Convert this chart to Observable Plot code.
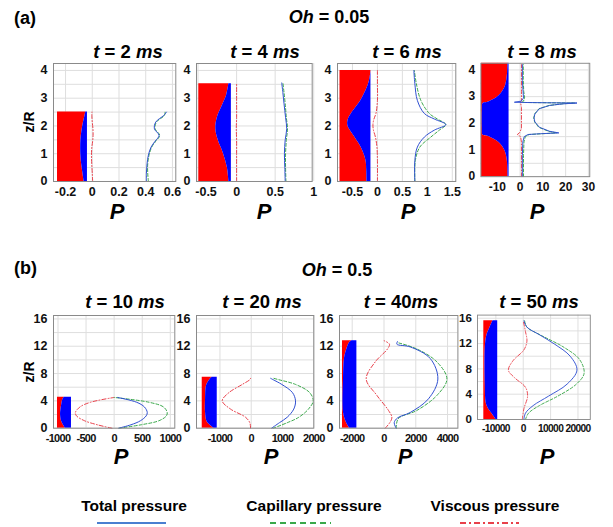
<!DOCTYPE html>
<html><head><meta charset="utf-8">
<script src="https://cdn.jsdelivr.net/npm/d3@7"></script>
<script src="https://cdn.jsdelivr.net/npm/@observablehq/plot@0.6"></script>
<style>
body{margin:0;background:#fff;font-family:"Liberation Sans",Arial,sans-serif;}
#root{position:relative;width:613px;height:527px;overflow:hidden;background:#fff;}
.plot{position:absolute;}
.plot svg{overflow:visible;}
</style></head><body><div id="root"></div>
<script>
// ---------- panel titles / labels ----------
const rowTitles = ["(a)", "(b)"];
const ohValues = ["0.05", "0.5"];
const times = ["2", "4", "6", "8", "10", "20", "40", "50"];
const legendLabels = ["Total pressure", "Capillary pressure", "Viscous pressure"];

// ---------- tick labels ----------
const topYTicks = [0, 1, 2, 3, 4];
const botYTicks = [0, 4, 8, 12, 16];
const p1XTicks = [-0.2, 0, 0.2, 0.4, 0.6];
const p2XTicks = [-0.5, 0, 0.5, 1];
const p3XTicks = [-0.5, 0, 0.5, 1, 1.5];
const p4XTicks = [-10, 0, 10, 20, 30];
const p5XTicks = [-1000, -500, 0, 500, 1000];
const p6XTicks = [-1000, 0, 1000, 2000];
const p7XTicks = [-2000, 0, 2000, 4000];
const p8XTicks = [-10000, 0, 10000, 20000];

// ---------- t = 2 ms ----------
const p1Domain = [-0.29, 0.625];
const p1Slab = [-0.26, -0.036];
const p1FillZ = [0, 0.3, 0.6, 0.9, 1.2, 1.5, 1.8, 2.1, 2.35, 2.5];
const p1Boundary = [-0.061, -0.07, -0.079, -0.085, -0.087, -0.085, -0.078, -0.067, -0.055, -0.048];
const p1Z = [0, 0.3, 0.64, 0.95, 1.24, 1.45, 1.66, 1.9, 2.14, 2.38, 2.5];
const p1Total = [0.405, 0.405, 0.41, 0.42, 0.44, 0.47, 0.5, 0.465, 0.475, 0.535, 0.555];
const p1Capillary = [0.42, 0.415, 0.415, 0.425, 0.445, 0.475, 0.505, 0.47, 0.48, 0.54, 0.545];
const p1Viscous = [0.003, 0.0, -0.004, -0.006, -0.003, 0.003, 0.006, 0.005, 0.0, -0.003, -0.002];

// ---------- t = 4 ms ----------
const p2Domain = [-0.52, 0.98];
const p2Slab = [-0.49, -0.068];
const p2FillZ = [0, 0.5, 1, 1.5, 1.9, 2.3, 2.7, 3.1, 3.52];
const p2Boundary = [-0.1, -0.12, -0.17, -0.24, -0.27, -0.25, -0.19, -0.13, -0.1];
const p2Z = [0, 0.5, 1, 1.5, 1.9, 2.3, 2.8, 3.2, 3.55];
const p2Total = [0.63, 0.625, 0.62, 0.63, 0.65, 0.635, 0.615, 0.6, 0.585];
const p2Capillary = [0.64, 0.635, 0.635, 0.645, 0.66, 0.645, 0.63, 0.615, 0.6];
const p2Viscous = [0, 0, 0, 0, -0.004, 0, 0, 0, 0];

// ---------- t = 6 ms ----------
const p3Domain = [-0.8, 1.57];
const p3Slab = [-0.75, -0.13];
const p3FillZ = [0, 0.4, 0.76, 1.24, 1.72, 1.99, 2.2, 2.5, 2.92, 3.4, 3.7, 4.0];
const p3Boundary = [-0.21, -0.215, -0.23, -0.33, -0.5, -0.59, -0.59, -0.5, -0.33, -0.2, -0.15, -0.13];
const p3Z = [0, 0.76, 1.24, 1.6, 1.85, 2.05, 2.25, 2.45, 2.92, 3.52, 4.0];
const p3Total = [0.75, 0.75, 0.8, 0.94, 1.14, 1.37, 1.14, 0.94, 0.8, 0.75, 0.73];
const p3Capillary = [0.75, 0.76, 0.85, 1.07, 1.24, 1.37, 1.2, 1.04, 0.87, 0.78, 0.74];
const p3Viscous = [0, 0, -0.01, -0.04, -0.08, -0.09, -0.07, -0.03, 0, 0, 0];

// ---------- t = 8 ms ----------
const p4Domain = [-17.2, 30.6];
const p4Slab = [-17.0, -4.85];
const p4FillZ = [0, 0.5, 0.8, 1.0, 1.2, 1.35, 1.45, 1.52, 1.56, 1.8, 2.2, 2.5, 2.74, 2.78, 2.86, 2.96, 3.12, 3.32, 3.55, 3.9, 4.25];
const p4Boundary = [-5.3, -5.5, -6.0, -6.8, -8.3, -10.3, -12.5, -14.5, -16.3, -16.6, -16.7, -16.6, -16.3, -14.5, -12.5, -10.3, -8.3, -6.8, -6.0, -5.5, -5.3];
const p4Z = [0, 0.8, 1.3, 1.5, 1.58, 1.61, 1.64, 1.7, 1.85, 2.05, 2.2, 2.35, 2.55, 2.67, 2.73, 2.76, 2.77, 2.78, 2.79, 2.83, 2.95, 3.2, 3.6, 4.2];
const p4Total = [1, 1, 1.2, 1.8, 3.5, 9, 17, 13, 8.5, 6.5, 6.1, 6.5, 8.5, 13, 19, 25, 12, 2, -2.5, 0.5, 1.5, 1.3, 1, 1];
const p4Capillary = [1.5, 1.5, 1.7, 2.3, 4, 10, 16, 12.5, 8.2, 6.4, 6.0, 6.4, 8.3, 12.8, 18.5, 24, 12, 2.5, 0.8, 1.5, 2, 1.6, 1.4, 1.4];
const p4ViscZ = [0, 1.3, 1.5, 1.58, 1.65, 1.8, 2.6, 2.78, 2.85, 3.2, 4.2];
const p4Viscous = [0.6, 0.6, 0.2, -1.2, -0.2, 0.6, 0.6, 0.2, 0.6, 0.6, 0.6];

// ---------- t = 10 ms ----------
const p5Domain = [-1080, 1080];
const p5Slab = [-1009, -760];
const p5FillZ = [0, 0.4, 1.1, 2.0, 2.6, 3.4, 4.05, 4.54];
const p5Boundary = [-870, -900, -940, -955, -950, -935, -920, -890];
const p5Z = [0, 0.5, 1.1, 1.8, 2.3, 3.1, 3.8, 4.5];
const p5Total = [80, 300, 470, 570, 590, 540, 400, 60];
const p5Capillary = [90, 480, 800, 930, 945, 880, 620, 0];
const p5Viscous = [-40, -300, -530, -670, -690, -610, -420, 0];

// ---------- t = 20 ms ----------
const p6Domain = [-1750, 2000];
const p6Slab = [-1567, -1087];
const p6FillZ = [0, 0.9, 2.3, 4.3, 6.2, 7.1, 7.46];
const p6Boundary = [-1196, -1407, -1461, -1461, -1430, -1323, -1247];
const p6Z = [0, 0.8, 1.6, 2.8, 4.0, 5.2, 6.4, 7.1, 7.3];
const p6Total = [650, 900, 1150, 1360, 1416, 1320, 980, 700, 620];
const p6Capillary = [700, 1150, 1520, 1830, 1980, 1870, 1420, 880, 720];
const p6Viscous = [-22, -45, -182, -662, -927, -716, -288, -45, -20];

// ---------- t = 40 ms ----------
const p7Domain = [-2800, 4650];
const p7Slab = [-2612, -1706];
const p7FillZ = [0, 0.9, 2.3, 7.2, 10.2, 11.6, 12.5, 12.8];
const p7Boundary = [-2171, -2379, -2549, -2549, -2486, -2335, -2171, -2020];
const p7TotalZ = [0, 0.8, 1.5, 2.3, 4.3, 7.2, 10.2, 11.9, 12.3, 12.7];
const p7Total = [768, 642, 850, 1650, 2800, 3390, 2910, 1650, 810, 850];
const p7CapZ = [0, 1.4, 2.6, 4.8, 7.2, 9.7, 11.6, 12.5];
const p7Capillary = [768, 900, 2070, 3330, 3960, 3330, 2070, 900];
const p7ViscZ = [0, 0.9, 1.6, 2.6, 4.8, 7.2, 9.7, 11.6, 12.3, 12.8];
const p7Viscous = [76, 390, 497, 283, -447, -1120, -554, 220, 346, 13];

// ---------- t = 50 ms ----------
const p8Domain = [-16700, 24500];
const p8Slab = [-14420, -9340];
const p8FillZ = [0, 0.7, 1.7, 2.6, 5.5, 11.4, 13.3, 14.5, 15.6];
const p8Boundary = [-9920, -11040, -12730, -13540, -13880, -13880, -13300, -12190, -11040];
const p8TotalZ = [0, 1, 2.2, 3.7, 5.6, 7.8, 10, 11.9, 13.4, 14.6, 15.6];
const p8Total = [240, 810, 3620, 9270, 16040, 19630, 17160, 11510, 5890, 1350, 240];
const p8CapZ = [0, 1, 2.2, 3.7, 5.6, 7.3, 9.5, 11.4, 13.2, 14.6, 15.6];
const p8Capillary = [810, 1930, 5890, 12660, 19430, 22240, 20550, 14900, 7010, 1350, 500];
const p8ViscZ = [0, 1.7, 3.7, 5.1, 6.6, 7.8, 9.3, 11, 12.4, 13.9, 15.6];
const p8Viscous = [-340, 240, 1590, 810, -3150, -5420, -3720, 240, 1350, 810, 0];

// ---------- styling ----------
const C = {total: "#2f4fd0", cap: "#3aa84a", visc: "#e8404a", red: "#ff0000", blue: "#0000ff", grid: "#dedede", frame: "#8a8a8a"};

// ---------- layout (frame positions in px) ----------
const topRow = {top: 63, h: 118, yDomain: [0, 4.25], yTicks: topYTicks, yGrid: d3.range(0, 4.01, 0.5), xFont: 12.5, xSpacing: 0};
const botRow = {top: 315, h: 112.7, yDomain: [0, 16.5], yTicks: botYTicks, yGrid: d3.range(0, 16.01, 2), xFont: 11, xSpacing: -0.7};

const zip = (z, v) => z.map((zz, i) => ({z: zz, p: v[i]}));
const fillRows = (z, b) => z.map((zz, i) => ({z: zz, b: b[i]}));

const panels = [
  {row: topRow, left: 52.7, w: 122.3, dom: p1Domain, ticks: p1XTicks, slab: p1Slab, fill: fillRows(p1FillZ, p1Boundary),
   total: zip(p1Z, p1Total), cap: zip(p1Z, p1Capillary), visc: zip(p1Z, p1Viscous), curve: "catmull-rom"},
  {row: topRow, left: 196, w: 115.7, dom: p2Domain, ticks: p2XTicks, slab: p2Slab, fill: fillRows(p2FillZ, p2Boundary),
   total: zip(p2Z, p2Total), cap: zip(p2Z, p2Capillary), visc: zip(p2Z, p2Viscous), curve: "catmull-rom", firstLabelShift: 8},
  {row: topRow, left: 336.7, w: 118.3, dom: p3Domain, ticks: p3XTicks, slab: p3Slab, fill: fillRows(p3FillZ, p3Boundary),
   total: zip(p3Z, p3Total), cap: zip(p3Z, p3Capillary), visc: zip(p3Z, p3Viscous), curve: "catmull-rom"},
  {row: topRow, left: 481.7, w: 113.3, dom: p4Domain, ticks: p4XTicks, slab: p4Slab, fill: fillRows(p4FillZ, p4Boundary),
   total: zip(p4Z, p4Total), cap: zip(p4Z, p4Capillary), visc: zip(p4ViscZ, p4Viscous), curve: "linear"},
  {row: botRow, left: 52.7, w: 121.3, dom: p5Domain, ticks: p5XTicks, slab: p5Slab, fill: fillRows(p5FillZ, p5Boundary),
   total: zip(p5Z, p5Total), cap: zip(p5Z, p5Capillary), visc: zip(p5Z, p5Viscous), curve: "catmull-rom"},
  {row: botRow, left: 196, w: 117.3, dom: p6Domain, ticks: p6XTicks, slab: p6Slab, fill: fillRows(p6FillZ, p6Boundary),
   total: zip(p6Z, p6Total), cap: zip(p6Z, p6Capillary), visc: zip(p6Z, p6Viscous), curve: "catmull-rom"},
  {row: botRow, left: 339.3, w: 118.4, dom: p7Domain, ticks: p7XTicks, slab: p7Slab, fill: fillRows(p7FillZ, p7Boundary),
   total: zip(p7TotalZ, p7Total), cap: zip(p7CapZ, p7Capillary), visc: zip(p7ViscZ, p7Viscous), curve: "catmull-rom"},
  {row: botRow, left: 480, w: 121.7, dom: p8Domain, ticks: p8XTicks, slab: p8Slab, fill: fillRows(p8FillZ, p8Boundary),
   total: zip(p8TotalZ, p8Total), cap: zip(p8CapZ, p8Capillary), visc: zip(p8ViscZ, p8Viscous), curve: "catmull-rom"}
];

const root = document.getElementById("root");
const ML = 40, MR = 25, MT = 5, MB = 25;

panels.forEach(pn => {
  const r = pn.row;
  const chart = Plot.plot({
    width: pn.w + ML + MR, height: r.h + MT + MB,
    marginLeft: ML, marginRight: MR, marginTop: MT, marginBottom: MB,
    style: {fontFamily: "'Liberation Sans', Arial, sans-serif", fontSize: "12px", fontWeight: "bold", color: "#111", background: "transparent", overflow: "visible"},
    x: {domain: pn.dom, label: null},
    y: {domain: r.yDomain, label: null},
    marks: [
      Plot.gridX(pn.ticks, {stroke: C.grid, strokeOpacity: 1}),
      Plot.gridY(r.yGrid, {stroke: C.grid, strokeOpacity: 1}),
      Plot.areaX(pn.fill, {y: "z", x1: () => pn.slab[0], x2: "b", fill: C.red, curve: "catmull-rom"}),
      Plot.areaX(pn.fill, {y: "z", x1: "b", x2: () => pn.slab[1], fill: C.blue, curve: "catmull-rom"}),
      Plot.line(pn.visc, {x: "p", y: "z", stroke: C.visc, strokeWidth: 1, strokeDasharray: "4,2,1,2", curve: pn.curve}),
      Plot.line(pn.cap, {x: "p", y: "z", stroke: C.cap, strokeWidth: 1, strokeDasharray: "3,2", curve: pn.curve}),
      Plot.line(pn.total, {x: "p", y: "z", stroke: C.total, strokeWidth: 1, curve: pn.curve}),
      Plot.axisX(pn.ticks, {tickSize: 0, tickPadding: 6, tickFormat: d => String(d), fontWeight: "bold", fontSize: r.xFont}),
      Plot.axisY(r.yTicks, {tickSize: 0, tickPadding: 6, tickFormat: d => String(d), fontWeight: "bold", fontSize: 12.5}),
      Plot.frame({stroke: C.frame})
    ]
  });
  const xLabels = d3.select(chart).selectAll("g[aria-label='x-axis tick label'] text");
  xLabels.style("letter-spacing", r.xSpacing + "px");
  if (pn.firstLabelShift) {
    xLabels.filter((d, i) => i === 0).attr("dx", pn.firstLabelShift);
  }
  const div = document.createElement("div");
  div.className = "plot";
  div.style.left = (pn.left - ML) + "px";
  div.style.top = (r.top - MT) + "px";
  div.appendChild(chart);
  root.appendChild(div);
});

// ---------- text overlay ----------
const ov = d3.select(root).append("svg")
  .attr("width", 613).attr("height", 527)
  .style("position", "absolute").style("left", 0).style("top", 0)
  .style("pointer-events", "none")
  .attr("font-family", "'Liberation Sans', Arial, sans-serif")
  .attr("font-weight", "bold");

// row labels
[[14, 24], [14, 274]].forEach(([x, y], i) => {
  ov.append("text").attr("x", x).attr("y", y).attr("font-size", 18).text(rowTitles[i]);
});
// Oh headers
[[329, 23], [337, 276]].forEach(([x, y], i) => {
  const t = ov.append("text").attr("x", x).attr("y", y).attr("font-size", 18).attr("text-anchor", "middle");
  t.append("tspan").attr("font-style", "italic").text("Oh");
  t.append("tspan").text(" = " + ohValues[i]);
});
// time titles
const titlePos = [[128, 58], [265, 58], [407, 58], [542, 58], [125, 308], [262, 308], [401, 308], [539, 308]];
titlePos.forEach(([x, y], i) => {
  const t = ov.append("text").attr("x", x).attr("y", y).attr("font-size", 18.5).attr("text-anchor", "middle");
  t.append("tspan").attr("font-style", "italic").text("t");
  if (i === 6) {
    t.append("tspan").text(" = " + times[i]);
    t.append("tspan").attr("font-style", "italic").text("ms");
  } else {
    t.append("tspan").text(" = " + times[i] + " ");
    t.append("tspan").attr("font-style", "italic").text("ms");
  }
});
// P labels
const pPos = [[117, 219], [264, 219], [408, 219], [537, 219], [121, 464], [271, 464], [405, 464], [547, 464]];
pPos.forEach(([x, y]) => {
  ov.append("text").attr("x", x).attr("y", y).attr("font-size", 22).attr("font-style", "italic").attr("text-anchor", "middle").text("P");
});
// z/R labels
[[34, 122], [34, 372]].forEach(([x, y]) => {
  ov.append("text").attr("transform", `translate(${x},${y}) rotate(-90)`).attr("font-size", 14).attr("text-anchor", "middle").text("z/R");
});
// legend
const legendStyle = [
  {cx: 134, x1: 97, x2: 166, stroke: "#4a7fd0", dash: null},
  {cx: 314, x1: 270, x2: 331, stroke: "#3aa84a", dash: "6,4"},
  {cx: 495, x1: 460, x2: 519, stroke: "#e8404a", dash: "6,3,2,3"}
];
legendStyle.forEach((s, i) => {
  ov.append("text").attr("x", s.cx).attr("y", 511).attr("font-size", 15.5).attr("text-anchor", "middle").text(legendLabels[i]);
  const l = ov.append("line").attr("x1", s.x1).attr("x2", s.x2).attr("y1", 523).attr("y2", 523)
    .attr("stroke", s.stroke).attr("stroke-width", 2);
  if (s.dash) l.attr("stroke-dasharray", s.dash);
});
</script></body></html>
